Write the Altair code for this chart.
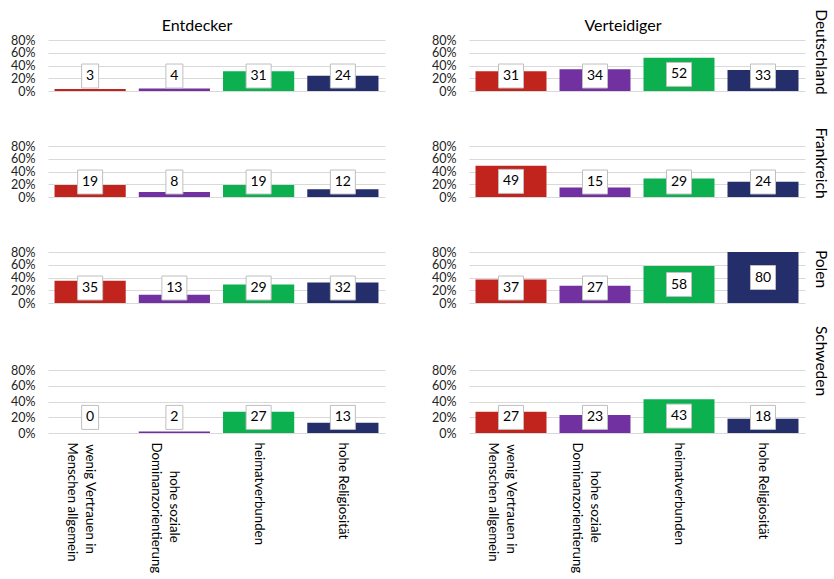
import altair as alt
import pandas as pd

# ---------------- data ----------------
categories = [
    "wenig Vertrauen in Menschen allgemein",
    "hohe soziale Dominanzorientierung",
    "heimatverbunden",
    "hohe Religiosität",
]
# a zero-width lead character keeps the (centred-look) indent from being trimmed
tick_lines = [
    ["\u200b\u2009wenig Vertrauen in", "Menschen allgemein"],
    ["\u200b" + "\u2002" * 4 + "\u2009hohe soziale", "Dominanzorientierung"],
    ["heimatverbunden"],
    ["hohe Religiosität"],
]
groups = ["Entdecker", "Verteidiger"]
countries = ["Deutschland", "Frankreich", "Polen", "Schweden"]
y_ticks = [0, 20, 40, 60, 80]

entdecker_deutschland = [3, 4, 31, 24]
entdecker_frankreich = [19, 8, 19, 12]
entdecker_polen = [35, 13, 29, 32]
entdecker_schweden = [0, 2, 27, 13]
verteidiger_deutschland = [31, 34, 52, 33]
verteidiger_frankreich = [49, 15, 29, 24]
verteidiger_polen = [37, 27, 58, 80]
verteidiger_schweden = [27, 23, 43, 18]

values = {
    ("Entdecker", "Deutschland"): entdecker_deutschland,
    ("Entdecker", "Frankreich"): entdecker_frankreich,
    ("Entdecker", "Polen"): entdecker_polen,
    ("Entdecker", "Schweden"): entdecker_schweden,
    ("Verteidiger", "Deutschland"): verteidiger_deutschland,
    ("Verteidiger", "Frankreich"): verteidiger_frankreich,
    ("Verteidiger", "Polen"): verteidiger_polen,
    ("Verteidiger", "Schweden"): verteidiger_schweden,
}

# ---------------- style / layout ----------------
bar_colors = ["#C1241C", "#7231A0", "#0CB04F", "#242E6B"]
FONT = "Lato"
col_widths = [337, 336]
row_heights = [51, 51, 63, 63]
row_domain_min = [0, 0, -18.8, 0]
label_min = [23.5, 23.5, 23.5, 19.8]
header_x = [149, 154]
row_label_y = [12, 17, 17, -9]
row_label_x = 352

box_small = "M-0.708,-1L0.708,-1L0.708,1L-0.708,1Z"
box_large = "M-1.042,-1L1.042,-1L1.042,1L-1.042,1Z"


def js_str(s):
    return "'" + s.replace("'", "\\'") + "'"


label_expr = ""
for cat, lines in zip(categories, tick_lines):
    arr = "[" + ",".join(js_str(l) for l in lines) + "]"
    label_expr += f"datum.value == {js_str(cat)} ? {arr} : "
label_expr += "datum.label"


def make_panel(gi, ri):
    g = groups[gi]
    c = countries[ri]
    df = pd.DataFrame({"cat": categories, "v": values[(g, c)]})
    w = col_widths[gi]
    h = row_heights[ri]

    if ri == 3:
        x_axis = alt.Axis(
            labelAngle=90,
            labelFont=FONT,
            labelFontSize=13.3,
            labelColor="#000000",
            labelPadding=9,
            labelLineHeight=18,
            labelLimit=300,
            labelExpr=label_expr,
            domain=False,
            ticks=False,
            title=None,
        )
    else:
        x_axis = None

    y_axis = alt.Axis(
        values=y_ticks,
        labelExpr="datum.value + '%'",
        labelFont=FONT,
        labelFontSize=12.5,
        labelColor="#222222",
        labelPadding=13,
        labelOverlap=False,
        domain=False,
        ticks=False,
        grid=True,
        gridColor="#D9D9D9",
        gridWidth=1,
        title=None,
    )
    y_scale = alt.Scale(domain=[row_domain_min[ri], 80], nice=False)

    def Y(field):
        return alt.Y(field, type="quantitative", scale=y_scale, axis=y_axis)

    base = alt.Chart(df).transform_calculate(
        ly=f"max(datum.v / 2, {label_min[ri]})"
    ).encode(
        x=alt.X(
            "cat:N",
            sort=categories,
            scale=alt.Scale(paddingInner=0.155, paddingOuter=0.0775),
            axis=x_axis,
        )
    )

    bars = base.mark_bar().encode(
        y=Y("v"),
        color=alt.Color(
            "cat:N",
            scale=alt.Scale(domain=categories, range=bar_colors),
            legend=None,
        ),
    )
    boxes = base.mark_point(
        filled=True,
        fill="white",
        stroke="#BFBFBF",
        strokeWidth=1,
        opacity=1,
        fillOpacity=1,
        strokeOpacity=1,
        size=576,
    ).encode(
        y=Y("ly"),
        shape=alt.condition("datum.v < 10", alt.value(box_small), alt.value(box_large)),
    )
    texts = base.mark_text(
        font=FONT, fontSize=14, color="#000000", baseline="middle", align="center"
    ).encode(y=Y("ly"), text="v:Q")

    layers = [bars, boxes, texts]

    if ri == 0:
        header = alt.Chart(pd.DataFrame({"t": [g]})).mark_text(
            font=FONT, fontSize=16, color="#000000", baseline="alphabetic", align="center"
        ).encode(x=alt.value(header_x[gi]), y=alt.value(-9), text="t:N")
        layers.append(header)
    if gi == 1:
        rlab = alt.Chart(pd.DataFrame({"t": [c]})).mark_text(
            font=FONT, fontSize=15.5, color="#000000", baseline="middle", align="center", angle=90
        ).encode(x=alt.value(row_label_x), y=alt.value(row_label_y[ri]), text="t:N")
        layers.append(rlab)

    return alt.layer(*layers).properties(width=w, height=h)


cells = []
for ri in range(4):
    for gi in range(2):
        cells.append(make_panel(gi, ri))

chart = alt.concat(
    *cells,
    columns=2,
    spacing={"row": 55, "column": 84},
    bounds="flush",
).properties(
    padding={"left": 10, "top": 9, "right": 3, "bottom": 0},
    background="white",
).configure_view(stroke=None).configure_text(font=FONT)

chart.save("out.html", embed_options={"renderer": "svg", "actions": False})
